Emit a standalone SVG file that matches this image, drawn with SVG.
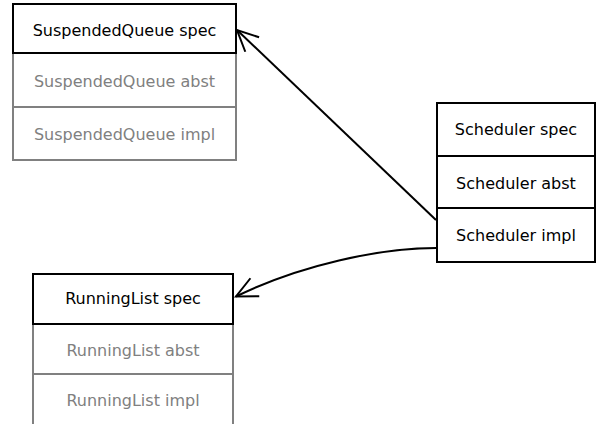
<svg xmlns="http://www.w3.org/2000/svg" width="602" height="424" viewBox="0 0 602 424">
<style>
text{font-family:"DejaVu Sans",Verdana,sans-serif;font-size:16px;text-anchor:middle}
.b{fill:#fff;stroke:#000;stroke-width:2}
.g{fill:#fff;stroke:#808080;stroke-width:2}
.tb{fill:#000}
.tg{fill:#808080}
.c{fill:none;stroke:#000;stroke-width:2}
</style>
<defs>
<marker id="arr" markerUnits="userSpaceOnUse" markerWidth="30" markerHeight="30" viewBox="-25 -15 30 30" refX="0" refY="0" orient="auto" overflow="visible">
<path d="M-21,-10 L0,0 L-21,10" fill="none" stroke="#000" stroke-width="2"/>
</marker>
</defs>
<rect width="602" height="424" fill="#fff"/>
<g id="SuspendedQueue">
<rect class="g" x="13" y="53" width="223" height="54"/>
<rect class="g" x="13" y="107" width="223" height="53"/>
<rect class="b" x="13" y="4" width="223" height="49"/>
<text class="tb" x="124.5" y="36">SuspendedQueue spec</text>
<text class="tg" x="124.5" y="87">SuspendedQueue abst</text>
<text class="tg" x="124.5" y="139.5">SuspendedQueue impl</text>
</g>
<g id="Scheduler">
<rect class="b" x="437" y="103" width="158" height="53"/>
<rect class="b" x="437" y="156" width="158" height="52"/>
<rect class="b" x="437" y="208" width="158" height="54"/>
<text class="tb" x="516" y="134.5">Scheduler spec</text>
<text class="tb" x="516" y="189">Scheduler abst</text>
<text class="tb" x="516" y="240.5">Scheduler impl</text>
</g>
<g id="RunningList">
<rect class="g" x="33" y="324" width="200" height="50"/>
<rect class="g" x="33" y="374" width="200" height="54"/>
<rect class="b" x="33" y="274" width="200" height="50"/>
<text class="tb" x="133" y="303.5">RunningList spec</text>
<text class="tg" x="133" y="355.5">RunningList abst</text>
<text class="tg" x="133" y="405.5">RunningList impl</text>
</g>
<g id="connectors">
<path class="c" d="M436,220 L237,30" marker-end="url(#arr)"/>
<path class="c" d="M436,248 C380,248 300,265 236,296.5" marker-end="url(#arr)"/>
</g>
</svg>
